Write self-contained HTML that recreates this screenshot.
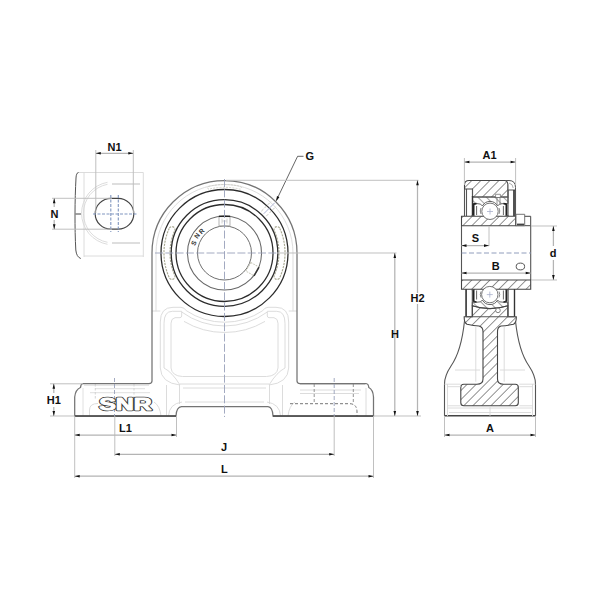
<!DOCTYPE html>
<html><head><meta charset="utf-8"><style>
html,body{margin:0;padding:0;background:#fff;width:600px;height:600px;overflow:hidden}
svg{display:block}
.k{stroke:#2c2c2c;stroke-width:1.28;fill:none}
.m{stroke:#555;stroke-width:1.1;fill:none}
.o{stroke:#747474;stroke-width:1.25;fill:none}
.l{stroke:#d8d8d8;stroke-width:0.9;fill:none}
.ld{stroke:#c8c8c8;stroke-width:0.9;fill:none;stroke-dasharray:2.5 1.5}
.d{stroke:#b4b4b4;stroke-width:1.25;fill:none}
.e{stroke:#bdbdbd;stroke-width:0.95;fill:none}
.c{stroke:#98a0ba;stroke-width:0.9;fill:none;stroke-dasharray:8 2.3}
.a{fill:#111;stroke:none}
.t{font-family:"Liberation Sans",sans-serif;font-weight:bold;font-size:11px;fill:#111}
</style></head><body>
<svg width="600" height="600" viewBox="0 0 600 600">
<defs>
<pattern id="h" width="6.4" height="10" patternUnits="userSpaceOnUse" patternTransform="rotate(45)">
<line x1="0" y1="-1" x2="0" y2="11" stroke="#3a3a3a" stroke-width="1.1"/>
</pattern>
<pattern id="h2" width="6.0" height="10" patternUnits="userSpaceOnUse" patternTransform="rotate(-45)">
<line x1="0" y1="-1" x2="0" y2="11" stroke="#444" stroke-width="1"/>
</pattern>
</defs>
<rect width="600" height="600" fill="#fff"/>

<!-- ============ LEFT SLOT VIEW ============ -->
<g>
<path class="l" d="M77,172.5 H143.3 V257 M84,172.5 V257 M84,256 H143.3"/>
<path d="M78.5,172.5 Q76.2,173 76,178 C74.8,200 74.6,228 75.8,250 Q76.5,257 80.8,258.5" stroke="#555" stroke-width="1" fill="none"/>
<path class="m" d="M75.5,214 H81"/>
<path class="l" d="M107.5,182.3 A31.5,31.5 0 0 0 107.5,244.3 M107.5,184.3 A29.5,29.5 0 0 0 107.5,242.3"/>
<path d="M112,184 H140 M112,243 H140" stroke="#dedede" stroke-width="1.8" fill="none"/>
<path class="m" d="M111,198.3 H118 A15.8,15.45 0 0 1 118,229.2 H111 A15.8,15.45 0 0 1 111,198.3 Z" style="stroke-width:1.2;stroke:#444"/>
<path d="M110.8,195 V232 M118.3,195 V232 M93,214 H137" stroke="#8096c0" stroke-width="1.1" fill="none" stroke-dasharray="3 1.5"/>
</g>

<!-- ============ FRONT VIEW ============ -->
<g>
<!-- light panel contours -->
<path class="l" d="M156,311.3 V253 A68.5,68.5 0 0 1 293,253 V311.3" style="stroke:#d9d9d9"/>
<path class="l" d="M160.3,368 V322 Q160.3,307.3 173,307.3 H181 Q184.5,307.5 186.3,310.7 A69,69 0 0 0 262.7,310.7 Q264.5,307.5 268,307.3 H276 Q288.7,307.3 288.7,322 V368"/>
<path class="l" d="M164,368 V323.3 Q164,311.3 172.3,311.3 H181.7 V316 Q181.5,317.5 180,317.7 H175 Q171,318.5 171,323.3 V368 M285,368 V323.3 Q285,311.3 276.7,311.3 H267.3 V316 Q267.5,317.5 269,317.7 H274 Q278,318.5 278,323.3 V368"/>
<path class="l" d="M181.7,312 A72.5,72.5 0 0 0 267.3,312 M184,321.4 A79.5,79.5 0 0 0 265,321.4"/>
<path class="l" d="M152,311 H160.3 M297,311 H288.7"/>
<path class="l" d="M182.5,376.5 H266.5 M180,384 H269 M183,388 H266 M185,402 H264"/>
<path class="l" d="M160.3,368 Q161,383 180,385 M164,368 Q172,372 180,385 M171,368 Q172,376 182.5,376.5 M288.7,368 Q288,383 269,385 M285,368 Q277,372 269,385 M278,368 Q277,376 266.5,376.5"/>
<path class="l" d="M166.5,385 V416 M179.5,385 V404 M282.5,385 V416 M269.5,385 V404"/>
<path class="l" d="M168.5,416 Q169,404 182,402 M154,402 Q160,406 161,416 M280.5,416 Q280,404 267,402 M295,402 Q289,406 288,416"/>
<!-- base light details left -->
<path class="l" d="M84,385.3 H149 M95,388.7 H145 M90,392.7 H150 M83,388 V416" style="stroke:#dcdcdc"/><path d="M95.3,384 V400 M134,384 V400" stroke="#d0d0d0" stroke-width="0.9" stroke-dasharray="2.5 1.5"/>
<path class="l" d="M89.5,416 V410 Q89.5,403.5 98,403.5"/>
<!-- base details right -->
<path class="l" d="M300,384.5 H365 M300,390 H361 M300,393.5 H359 M366,388 V416"/>
<path d="M290,403.7 H350 Q357,404 357,412 V416" stroke="#777" stroke-width="1" fill="none" stroke-dasharray="3 2"/>
<path d="M314.2,384 V403 M353.3,384 V403" stroke="#888" stroke-width="0.9" fill="none" stroke-dasharray="3 2"/>

<!-- housing outline -->
<path class="o" d="M152,381 V253 A72.5,72.5 0 0 1 297,253 V381 Q297,383.5 300,383.5 H366 Q368.5,383.8 368.8,387.5 Q373,389.5 373.5,397 V416 H273 Q272.5,407 268,406.7 H181.5 Q176.5,407 176,416 H74.7 V397 Q75.5,389.5 80.5,387.5 Q80.8,383.8 83,383.5 H149 Q152,383.5 152,381 Z"/>

<path d="M74.7,416 H176 M273,416 H373.5" stroke="#444" stroke-width="1.4"/>
<!-- grease grooves -->
<path d="M169.2,228.4 A60.5,60.5 0 0 0 169.2,277.6 A3,3 0 0 0 174.7,275.2 A54.5,54.5 0 0 1 174.7,230.8 A3,3 0 0 0 169.2,228.4 Z M279.8,228.4 A60.5,60.5 0 0 1 279.8,277.6 A3,3 0 0 1 274.3,275.2 A54.5,54.5 0 0 0 274.3,230.8 A3,3 0 0 1 279.8,228.4 Z" stroke="#aaaa94" stroke-width="1.15" fill="none" stroke-dasharray="2.2 1"/>
<path d="M208.5,186.4 A68,68 0 0 1 240.5,186.4 A1.5,1.5 0 0 1 240.2,189.2 A65,65 0 0 0 208.8,189.2 A1.5,1.5 0 0 1 208.5,186.4 Z" stroke="#c9c9c0" stroke-width="0.8" fill="none" stroke-dasharray="2 1.2"/>
<!-- circles -->
<circle class="k" cx="224.5" cy="253" r="63.5"/>
<circle class="k" cx="224.5" cy="253" r="53.3"/>
<circle class="k" cx="224.5" cy="253" r="48.5"/>
<circle cx="224.5" cy="253" r="37" stroke="#686868" stroke-width="1.05" fill="none"/>
<circle cx="224.5" cy="253" r="27" stroke="#707070" stroke-width="1" fill="none"/>
<!-- set screws -->
<path d="M219,216.5 V225.8 M230,216.5 V225.8 M219,225.8 H230" stroke="#aaa" stroke-width="0.9" fill="none"/>
<path d="M218.8,216.3 H230.2" stroke="#222" stroke-width="1.5"/>
<path d="M222,218.5 V223.5 M227,218.5 V223.5 M222,221 H227" stroke="#c8c8c8" stroke-width="0.8" fill="none"/>
<g transform="translate(224.5,253) rotate(30)"><path d="M27.5,-5 H36.5 V5 H27.5 Z" stroke="#c4c4b4" stroke-width="0.9" fill="none" stroke-dasharray="1.8 1"/><path d="M37,-5 V5" stroke="#333" stroke-width="1.4"/></g>
<!-- grease hole near G -->
<g transform="translate(224.5,253) rotate(-45)"><path d="M55.5,0 H71" stroke="#a8aed0" stroke-width="0.9" fill="none"/><path d="M55.5,-3.5 H69.5 M55.5,3.5 H69.5" stroke="#c6c6be" stroke-width="0.9" fill="none" stroke-dasharray="3 1.5"/></g>
<!-- SNR small on ring -->
<g class="t" style="font-size:6.6px;fill:#333">
<text x="0" y="0" transform="translate(195,246) rotate(-66)">S</text>
<text x="0" y="0" transform="translate(197.4,239) rotate(-55)">N</text>
<text x="0" y="0" transform="translate(201.6,234.4) rotate(-44)">R</text>
</g>


<!-- center lines -->
<path class="c" d="M224.5,179 V417"/>
<path class="c" d="M155,253 H277"/>
<path class="c" d="M114.5,378 V416 M334.2,378 V416" style="stroke-dasharray:4 2"/>
<!-- SNR logo on base -->
<g transform="translate(99.2,410.2) scale(1.52,1)" style="font-family:'Liberation Sans',sans-serif;font-weight:bold;font-size:16.4px">
<text x="0" y="0" fill="#3a3a3a" stroke="#3a3a3a" stroke-width="2.4" stroke-linejoin="round">SNR</text>
<text x="0" y="0" fill="#fff" stroke="#fff" stroke-width="0.85" stroke-linejoin="round">SNR</text>
</g>
</g>

<!-- ============ DIMENSIONS FRONT ============ -->
<g>
<!-- N1 -->
<path class="e" d="M95.8,150 V213 M133.3,150 V213"/><path class="d" d="M95.8,153.3 H133.3"/>
<path class="a" d="M95.8,153.3 l5,-1.3 v2.6 Z M133.3,153.3 l-5,-1.3 v2.6 Z"/>
<text class="t" x="107.5" y="151">N1</text>
<!-- N -->
<path class="e" d="M52,198.3 H112 M52,229.2 H112"/><path class="d" d="M54.2,198.3 V207 M54.2,220 V229.2"/>
<path class="a" d="M54.2,198.3 l-1.3,5 h2.6 Z M54.2,229.2 l-1.3,-5 h2.6 Z"/>
<text class="t" x="50.5" y="218.3">N</text>
<!-- G -->
<path d="M303.5,156.3 H297.6 L276.3,200.5" stroke="#4a4a4a" stroke-width="0.85" fill="none"/>
<path class="a" d="M276.1,201.2 L279.4,197.2 L277.0,196.1 Z"/>
<text class="t" x="305.5" y="160.3">G</text>
<!-- H2 / H extensions -->
<path class="e" d="M226,180.3 H418.5 M277,253 H396.5 M373.5,416 H421"/>
<path class="d" d="M417.5,180.3 V416 M394.8,253 V416"/>
<path class="a" d="M417.5,180.3 l-1.3,5 h2.6 Z M417.5,416 l-1.3,-5 h2.6 Z M394.8,253 l-1.3,5 h2.6 Z M394.8,416 l-1.3,-5 h2.6 Z"/>
<rect x="409.5" y="293" width="16" height="11" fill="#fff"/>
<text class="t" x="410.5" y="302.4">H2</text>
<text class="t" x="391" y="338.3">H</text>
<!-- H1 -->
<path class="e" d="M50,383.8 H83 M50,416 H74.7"/><path class="d" d="M53.8,383.8 V393 M53.8,407 V416"/>
<path class="a" d="M53.8,383.8 l-1.3,5 h2.6 Z M53.8,416 l-1.3,-5 h2.6 Z"/>
<text class="t" x="46.8" y="404.1">H1</text>
<!-- L1 J L -->
<path class="e" d="M74.7,416 V478 M176.5,416 V437 M114.8,416 V456 M334.2,416 V456 M373.5,416 V478"/>
<path class="d" d="M74.7,435 H176.5 M114.8,454.3 H334.2 M74.7,476.2 H373.5"/>
<path class="a" d="M74.7,435 l5,-1.3 v2.6 Z M176.5,435 l-5,-1.3 v2.6 Z M114.8,454.3 l5,-1.3 v2.6 Z M334.2,454.3 l-5,-1.3 v2.6 Z M74.7,476.2 l5,-1.3 v2.6 Z M373.5,476.2 l-5,-1.3 v2.6 Z"/>
<text class="t" x="119" y="432.2">L1</text>
<text class="t" x="221" y="451">J</text>
<text class="t" x="221" y="473">L</text>
</g>

<!-- ============ SIDE VIEW ============ -->
<g>
<!-- top housing cap + outer ring (hatched) -->
<path fill="url(#h)" stroke="#444" stroke-width="1.1" d="M464.5,189 V185 Q464.5,180.5 469,180.5 H505 Q508,180.8 508,184.5 V197 H472.5 V189 Z"/>
<path fill="#fff" stroke="#555" stroke-width="1" d="M505,180.5 H509 Q515.5,180.5 515.5,187.5 V190 H508 V184.5 Q508,180.8 505,180.5 Z"/>
<path d="M509,183 Q513,184 513.2,188" stroke="#999" stroke-width="0.8" fill="none"/>
<path fill="url(#h2)" stroke="#555" stroke-width="0.9" d="M472.5,197 H508 V203.6 H503 Q498.5,203.5 497.6,206 A8.6,8.6 0 0 0 482.4,206 Q481.5,203.5 477,203.6 H472.5 Z"/>
<path d="M495.6,197 V194.3 H500.4 V197 M497,197 V205 M500,197 V205" stroke="#777" stroke-width="0.8" fill="#fff"/>
<!-- side strips top -->
<path class="m" d="M464.5,189 V216 M466.5,189 V216 M472.5,189 V216 M508,190 V216 M514,190 V216 M515.5,190 V216"/>
<path d="M514,190 V216 M472.5,196 V216" stroke="#333" stroke-width="1.4"/>
<!-- seals top -->
<path d="M473.6,216 V205 Q473.6,203.6 476.5,203.6 M506.4,216 V205 Q506.4,203.6 503.5,203.6" stroke="#222" stroke-width="1.8" fill="none"/>
<path d="M476.6,206 V215 M503.4,206 V215 M471.5,215.6 H474 M508.5,215.6 H506" stroke="#555" stroke-width="0.9" fill="none"/>
<path d="M481,208 Q479.5,211 481,214 M499,208 Q500.5,211 499,214" stroke="#888" stroke-width="1" fill="none"/>

<!-- inner ring top band -->
<path fill="url(#h)" stroke="#444" stroke-width="1.1" d="M461.5,216.3 H515.7 V225.7 H461.5 Z"/>
<path fill="#fff" stroke="#444" stroke-width="1" d="M515.7,216.3 H530.7 V225.7 H515.7 Z"/>
<path d="M516,214.3 H524.7 V225.7 H516 Z" fill="#fff" stroke="#666" stroke-width="0.9"/>
<path d="M517,224.5 H524" stroke="#444" stroke-width="1.8"/>
<circle cx="490" cy="211.3" r="8.2" fill="#fff" stroke="#666" stroke-width="0.9"/>
<path d="M490,208.5 V214.5 M487,211.5 H493" stroke="#a8b0cc" stroke-width="0.8"/>
<!-- bore -->
<path class="m" d="M461.5,225.7 V280 M530.7,225.7 V280"/>
<path d="M461.5,253 H531" stroke="#8492b4" stroke-width="0.9" stroke-dasharray="5 2.5" fill="none"/>
<path class="l" d="M489,226 V246" style="stroke:#bbb"/>
<ellipse cx="520.4" cy="266.5" rx="4.2" ry="3.4" fill="#fff" stroke="#555" stroke-width="1"/>
<!-- inner ring bottom band -->
<path fill="url(#h)" stroke="#444" stroke-width="1.1" d="M461.5,280 H530.7 V289.3 H461.5 Z"/>

<!-- bottom bearing -->
<path class="m" d="M466.1,289.3 V316.8 M472.3,289.3 V316.8 M508.1,289.3 V316.8 M514.5,289.3 V316.8"/>
<path d="M514.5,289.3 V316.8 M466.1,289.3 V316.8" stroke="#333" stroke-width="1.3"/>
<path d="M473.6,289.3 V300.5 Q473.6,302 476.5,302 M506.4,289.3 V300.5 Q506.4,302 503.5,302" stroke="#222" stroke-width="1.8" fill="none"/>
<path d="M476.6,290.5 V299.5 M503.4,290.5 V299.5 M471.5,289.8 H474 M508.5,289.8 H506" stroke="#555" stroke-width="0.9" fill="none"/>
<path d="M481,291.5 Q479.5,294.5 481,297.5 M499,291.5 Q500.5,294.5 499,297.5" stroke="#888" stroke-width="1" fill="none"/>
<!-- housing bottom hatched section -->
<path fill="url(#h2)" stroke="#555" stroke-width="0.9" d="M472.3,302.2 H477 Q481.5,302.5 482.4,300 A8.6,8.6 0 0 0 497.6,300 Q498.5,302.5 503,302.2 H507.8 V305.8 Q490,311.5 472.3,305.8 Z"/>
<path fill="url(#h)" stroke="#444" stroke-width="1.1" d="M472.3,305.8 Q490,311.5 507.8,305.8 V316.8 H516.3 Q516.5,322.5 513.5,324.3 Q506,325.8 501,326 Q497.5,327 497.5,331.5 V379 Q497.5,384.2 503.5,384.2 H515.3 Q518.3,384.2 518.3,387.2 V402.8 Q518.3,405.8 515.3,405.8 H463.8 Q460.8,405.8 460.8,402.8 V387.2 Q460.8,384.2 463.8,384.2 H477 Q483,384.2 483,379 V331.5 Q483,327 479,326 Q474,325.8 467,324.3 Q464,322.5 464.2,316.8 H472.3 Z"/>
<circle cx="498" cy="310.4" r="2.3" fill="#fff" stroke="#666" stroke-width="0.8"/>
<path class="m" d="M466.1,316.8 H514.5"/>
<circle cx="489.8" cy="294.6" r="8.2" fill="#fff" stroke="#666" stroke-width="0.9"/>
<path d="M489.8,291.6 V297.6 M486.8,294.6 H492.8" stroke="#a8b0cc" stroke-width="0.8"/>
<!-- flanks -->
<path class="m" d="M464.5,321 C462.5,340 458,356 451,366 C447,372 444.5,377 444.5,384 V415.8 M535.5,415.8 V384 C535.5,377 533,372 529,366 C522,356 517.5,340 515.5,321"/>
<path d="M444.5,415.8 H535.5" stroke="#444" stroke-width="1.4"/>
<path class="l" d="M444.5,384.2 H460.7 M519.4,384.2 H535.5 M447,386.7 H460.7 M519.4,386.7 H533 M447,405.8 H460.7 M519.4,405.8 H533 M447,408 H533 M449,412.5 H531 M490,406.7 V415.8 M447.5,384 V416 M532.5,384 V416"/>
<path class="l" d="M475.8,327 V381.7 M504.2,327 V381.7 M455,370 H480 M500,370 H525"/>
<!-- side dims -->
<path class="e" d="M464.4,158 V185 M515.6,158 V185"/><path class="d" d="M464.4,162 H515.6"/>
<path class="a" d="M464.4,162 l5,-1.3 v2.6 Z M515.6,162 l-5,-1.3 v2.6 Z"/>
<text class="t" x="482.5" y="159.3">A1</text>
<path class="e" d="M531,226 H557 M531,280 H557"/><path class="d" d="M553.4,226 V246 M553.4,260 V280"/>
<path class="a" d="M553.4,226 l-1.3,5 h2.6 Z M553.4,280 l-1.3,-5 h2.6 Z"/>
<text class="t" x="549.8" y="257">d</text>
<path class="d" d="M461.5,245.6 H489"/>
<path class="a" d="M461.5,245.6 l5,-1.3 v2.6 Z M489,245.6 l-5,-1.3 v2.6 Z"/>
<text class="t" x="471.7" y="242">S</text>
<path class="d" d="M461.5,273 H530.7"/>
<path class="a" d="M461.5,273 l5,-1.3 v2.6 Z M530.7,273 l-5,-1.3 v2.6 Z"/>
<text class="t" x="491.7" y="269.6">B</text>
<path class="e" d="M444.5,416 V437 M535.5,416 V437"/><path class="d" d="M444.5,435 H535.5"/>
<path class="a" d="M444.5,435 l5,-1.3 v2.6 Z M535.5,435 l-5,-1.3 v2.6 Z"/>
<text class="t" x="486" y="431.8">A</text>
</g>
</svg>
</body></html>
